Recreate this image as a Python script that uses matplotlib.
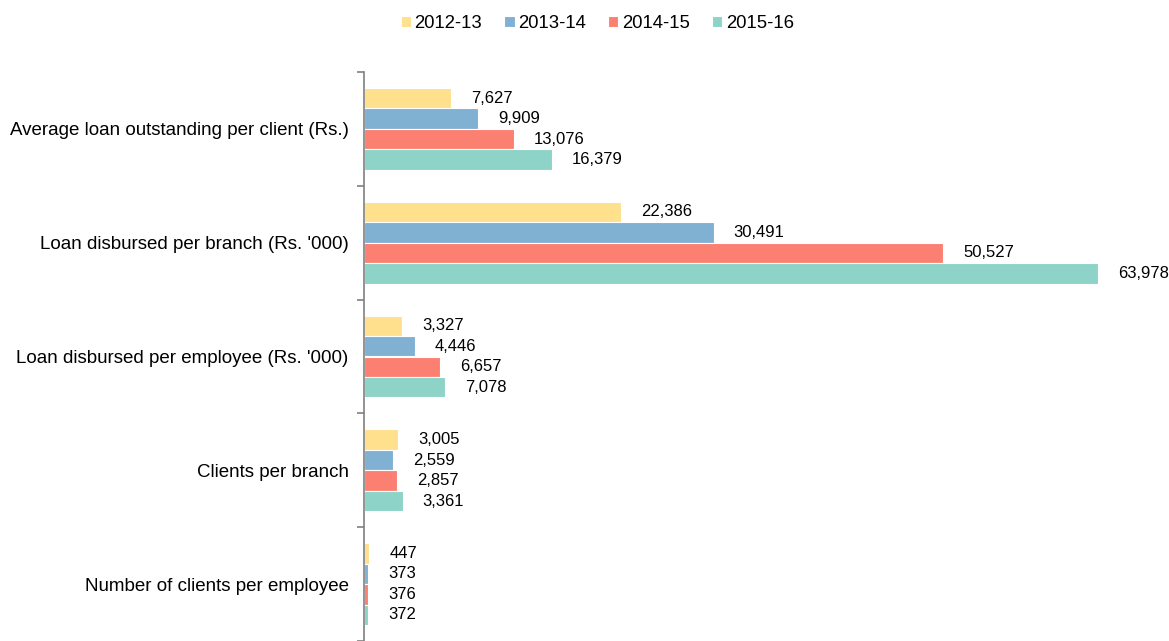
import matplotlib.pyplot as plt
import numpy as np

plt.rcParams['font.family'] = ['Liberation Sans', 'DejaVu Sans']

categories = ["Average loan outstanding per client (Rs.)",
              "Loan disbursed per branch (Rs. '000)",
              "Loan disbursed per employee (Rs. '000)",
              "Clients per branch",
              "Number of clients per employee"]
years = ["2012-13", "2013-14", "2014-15", "2015-16"]
v_2012 = [7627, 22386, 3327, 3005, 447]
v_2013 = [9909, 30491, 4446, 2559, 373]
v_2014 = [13076, 50527, 6657, 2857, 376]
v_2015 = [16379, 63978, 7078, 3361, 372]
series = [v_2012, v_2013, v_2014, v_2015]
colors = ["#FFE08C", "#80B1D3", "#FB8072", "#8DD3C7"]

fig = plt.figure(figsize=(11.69, 6.41), dpi=100)
ax = fig.add_axes([364 / 1169, 0.0, 1 - 364 / 1169, 1 - 72 / 641])

y = np.arange(len(categories))
h = 0.18
for i, (vals, col, lab) in enumerate(zip(series, colors, years)):
    pos = y - 1.5 * h + i * h
    ax.barh(pos, vals, height=h, color=col, edgecolor='white', linewidth=0.8, label=lab)
    for p, v in zip(pos, vals):
        ax.annotate(f"{v:,}", (v, p), xytext=(14.5, 0), textcoords='offset points',
                    ha='left', va='center', fontsize=12, color='black')

ax.set_xlim(0, 70200)
ax.set_ylim(len(categories) - 0.5, -0.5)
ax.set_yticks(y)
ax.set_yticklabels(categories, fontsize=13.5)
ax.tick_params(axis='y', which='major', length=0, pad=11)
ax.set_yticks(np.arange(-0.5, len(categories)), minor=True)
ax.tick_params(axis='y', which='minor', length=5, color='#808080', width=1.2)
ax.set_xticks([])
for s in ['top', 'right', 'bottom']:
    ax.spines[s].set_visible(False)
ax.spines['left'].set_color('#808080')
ax.spines['left'].set_linewidth(1.2)

fig.legend(loc='upper center', bbox_to_anchor=(0.511, 1.003), ncol=4, frameon=False,
           fontsize=13.3, handlelength=0.55, handleheight=0.55, handletextpad=0.2,
           columnspacing=1.2)

fig.savefig("out.png", dpi=100)
